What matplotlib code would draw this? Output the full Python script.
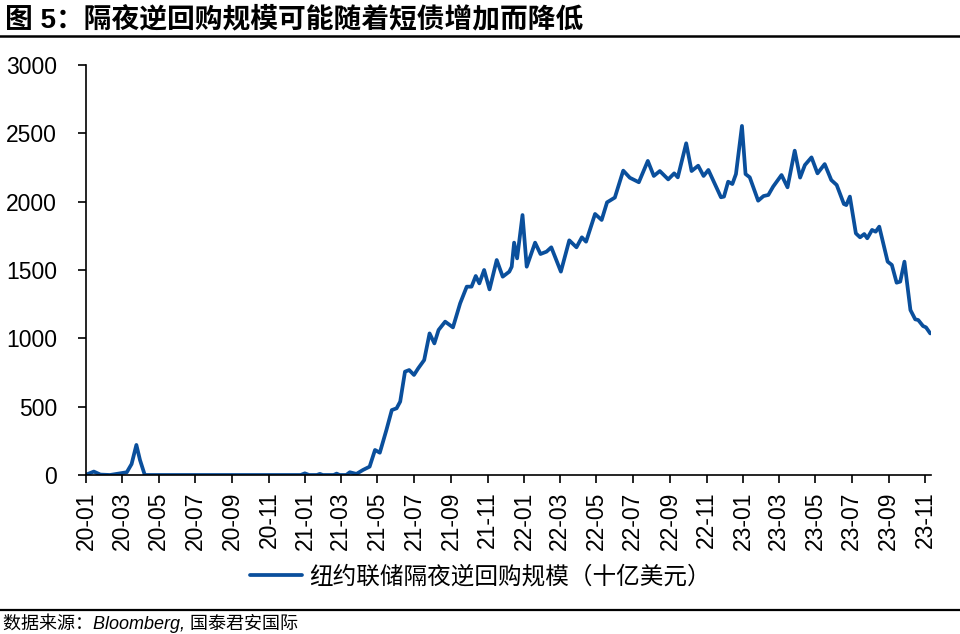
import matplotlib
matplotlib.use("Agg")
import matplotlib.pyplot as plt
import matplotlib.dates as mdates
import pandas as pd

plt.rcParams['font.family'] = ['Liberation Sans', 'Noto Sans CJK SC', 'DejaVu Sans']

#-----------------------data (billion USD)-----------------#
dates = [
    "2020-01-01", "2020-01-14", "2020-01-25", "2020-02-10", "2020-03-09", "2020-03-17",
    "2020-03-25", "2020-03-31", "2020-04-08", "2020-06-01", "2020-09-01", "2020-12-24",
    "2020-12-31", "2021-01-07", "2021-01-20", "2021-01-25", "2021-01-30", "2021-02-17",
    "2021-02-22", "2021-02-27", "2021-03-10", "2021-03-16", "2021-03-27", "2021-04-07",
    "2021-04-18", "2021-04-27", "2021-05-05", "2021-05-16", "2021-05-25", "2021-06-02",
    "2021-06-08", "2021-06-16", "2021-06-23", "2021-07-01", "2021-07-08", "2021-07-18",
    "2021-07-27", "2021-08-04", "2021-08-11", "2021-08-22", "2021-09-04", "2021-09-16",
    "2021-09-27", "2021-10-05", "2021-10-12", "2021-10-18", "2021-10-26", "2021-11-04",
    "2021-11-16", "2021-11-26", "2021-12-07", "2021-12-11", "2021-12-15", "2021-12-20",
    "2021-12-29", "2022-01-05", "2022-01-19", "2022-01-28", "2022-02-07", "2022-02-15",
    "2022-03-03", "2022-03-17", "2022-03-29", "2022-04-07", "2022-04-14", "2022-04-29",
    "2022-05-10", "2022-05-19", "2022-06-01", "2022-06-15", "2022-06-26", "2022-07-11",
    "2022-07-26", "2022-08-05", "2022-08-15", "2022-08-29", "2022-09-08", "2022-09-14",
    "2022-09-28", "2022-10-07", "2022-10-18", "2022-10-27", "2022-11-04", "2022-11-25",
    "2022-11-30", "2022-12-07", "2022-12-14", "2022-12-20", "2022-12-30", "2023-01-05",
    "2023-01-12", "2023-01-26", "2023-02-04", "2023-02-12", "2023-02-20", "2023-03-06",
    "2023-03-16", "2023-03-28", "2023-04-06", "2023-04-14", "2023-04-25", "2023-05-05",
    "2023-05-17", "2023-05-28", "2023-06-06", "2023-06-18", "2023-06-22", "2023-06-28",
    "2023-07-08", "2023-07-15", "2023-07-22", "2023-07-27", "2023-08-04", "2023-08-10",
    "2023-08-16", "2023-08-30", "2023-09-06", "2023-09-14", "2023-09-20", "2023-09-27",
    "2023-10-07", "2023-10-15", "2023-10-20", "2023-10-28", "2023-11-02", "2023-11-09",
]
rrp_vals = [
    2, 25, 3, 0, 20, 80,
    220, 110, 0, 0, 0, 0,
    12, 0, 0, 8, 0, 0,
    10, 0, 0, 20, 8, 37,
    61, 183, 163, 329, 475, 488,
    537, 756, 768, 732, 780, 841,
    1036, 963, 1061, 1122, 1080, 1256,
    1378, 1378, 1456, 1402, 1500, 1358,
    1573, 1451, 1488, 1524, 1700, 1585,
    1902, 1524, 1700, 1617, 1634, 1666,
    1488, 1717, 1666, 1739, 1707, 1910,
    1866, 1995, 2030, 2227, 2175, 2142,
    2298, 2188, 2224, 2163, 2207, 2178,
    2427, 2224, 2263, 2188, 2232, 2032,
    2037, 2146, 2129, 2202, 2554, 2202,
    2178, 2007, 2041, 2049, 2110, 2195,
    2105, 2373, 2176, 2268, 2324, 2207,
    2275, 2158, 2122, 1983, 1975, 2037,
    1768, 1739, 1763, 1732, 1793, 1780,
    1817, 1561, 1537, 1407, 1415, 1561,
    1207, 1139, 1134, 1090, 1080, 1036,
]
x_ticks = pd.date_range("2020-01-01", "2023-11-01", freq="2MS")
y_ticks = [0, 500, 1000, 1500, 2000, 2500, 3000]

TITLE = "图 5：隔夜逆回购规模可能随着短债增加而降低"
SERIES = "纽约联储隔夜逆回购规模（十亿美元）"
SOURCE = "数据来源：Bloomberg, 国泰君安国际"
BLUE = "#0a4f9c"

#-----------------------figure----------------------------------------------#
fig = plt.figure(figsize=(9.6, 6.34), dpi=100)
ax = fig.add_axes([0.0896, 0.2508, 0.88, 0.6467])

ax.plot(pd.to_datetime(dates), rrp_vals, color=BLUE, lw=2.7,
        solid_joinstyle='round', solid_capstyle='round', label=SERIES)

ax.set_xlim(pd.Timestamp("2020-01-01"), pd.Timestamp("2023-11-10"))
ax.set_ylim(0, 3000)
ax.set_yticks(y_ticks)
ax.set_xticks(x_ticks)
ax.xaxis.set_major_formatter(mdates.DateFormatter("%y-%m"))
ax.tick_params(axis='x', labelrotation=90, labelsize=16.5, length=6, width=1.2, pad=6)
ax.tick_params(axis='y', labelsize=16.5, length=6, width=1.2, pad=15)
for s in ['top', 'right']:
    ax.spines[s].set_visible(False)
for s in ['left', 'bottom']:
    ax.spines[s].set_linewidth(1.2)

fig.legend(loc='center', bbox_to_anchor=(0.5, 0.09), frameon=False,
           handlelength=2.2, handletextpad=0.3,
           prop={'family': ['Noto Sans CJK SC'], 'size': 17})

# title with rule under it
fig.text(0.005, 0.968, TITLE, fontsize=20, fontweight='bold',
         family=['Liberation Sans', 'Noto Sans CJK SC'], va='center', ha='left')
fig.add_artist(plt.Line2D([0, 1], [0.9432, 0.9432], color='black', lw=1.8))
fig.add_artist(plt.Line2D([0, 1], [0.0379, 0.0379], color='black', lw=1.6))
fig.text(0.003, 0.0174, SOURCE, fontsize=13, style='italic',
         family=['Liberation Sans', 'Noto Sans CJK SC'], va='center', ha='left')

fig.savefig("out.png", dpi=100)
